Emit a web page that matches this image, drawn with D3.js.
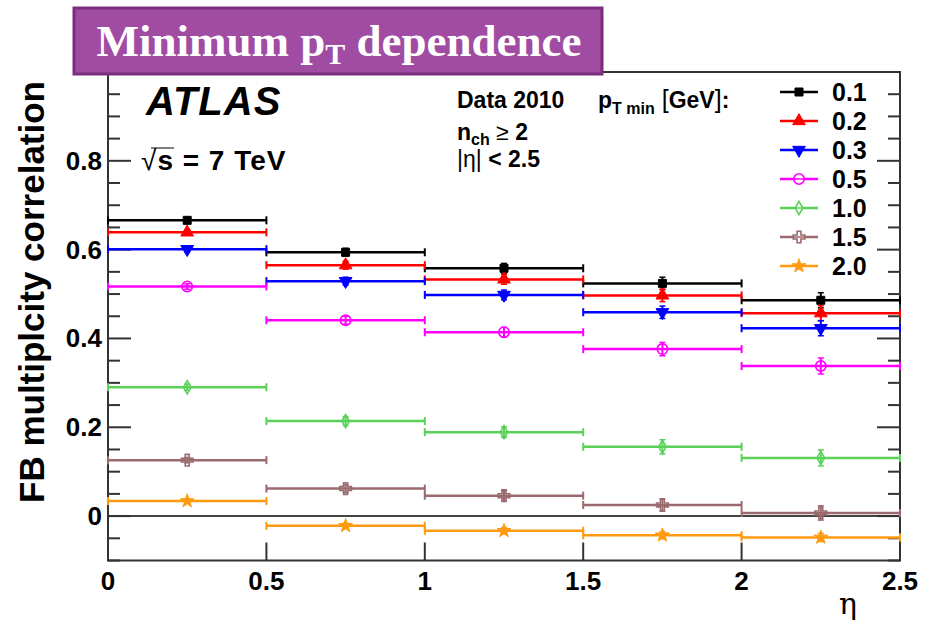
<!DOCTYPE html>
<html>
<head>
<meta charset="utf-8">
<script src="https://cdn.jsdelivr.net/npm/d3@7"></script>
<style>
  body { margin: 0; background: #fff; }
  svg text { font-family: "Liberation Sans", Arial, sans-serif; }
</style>
</head>
<body>
<svg id="chart" width="925" height="625"></svg>
<script>
// FB multiplicity correlation vs eta, for several pT min cuts

// eta bins (edges) and bin centres
var binEdges = [0, 0.5, 1.0, 1.5, 2.0, 2.5];
var binCentres = [0.25, 0.75, 1.25, 1.75, 2.25];

var seriesNames = ['0.1', '0.2', '0.3', '0.5', '1.0', '1.5', '2.0'];

// correlation values per bin
var pt01 = [0.666, 0.594, 0.558, 0.524, 0.486];
var pt02 = [0.639, 0.565, 0.533, 0.497, 0.457];
var pt03 = [0.601, 0.529, 0.498, 0.459, 0.423];
var pt05 = [0.517, 0.441, 0.414, 0.376, 0.338];
var pt10 = [0.290, 0.214, 0.189, 0.156, 0.131];
var pt15 = [0.126, 0.062, 0.046, 0.025, 0.007];
var pt20 = [0.034, -0.022, -0.033, -0.043, -0.048];

// statistical errors (approx.)
var err01 = [0.006, 0.009, 0.011, 0.014, 0.017];
var err02 = [0.006, 0.009, 0.011, 0.014, 0.017];
var err03 = [0.006, 0.009, 0.011, 0.014, 0.017];
var err05 = [0.006, 0.009, 0.011, 0.015, 0.018];
var err10 = [0.007, 0.010, 0.012, 0.016, 0.018];
var err15 = [0.006, 0.009, 0.012, 0.014, 0.016];
var err20 = [0.004, 0.006, 0.007, 0.008, 0.009];

var xTicks = [0, 0.5, 1, 1.5, 2, 2.5];
var xTickLabels = ['0', '0.5', '1', '1.5', '2', '2.5'];
var yTicks = [0, 0.2, 0.4, 0.6, 0.8];

var series = [
  { name: seriesNames[0], vals: pt01, errs: err01, color: '#000000', sym: d3.symbolSquare, size: 64, fill: true, rot: 0 },
  { name: seriesNames[1], vals: pt02, errs: err02, color: '#ff0000', sym: d3.symbolTriangle, size: 70, fill: true, rot: 0 },
  { name: seriesNames[2], vals: pt03, errs: err03, color: '#0000ff', sym: d3.symbolTriangle, size: 70, fill: true, rot: 180 },
  { name: seriesNames[3], vals: pt05, errs: err05, color: '#ff00ff', sym: d3.symbolCircle, size: 85, fill: false, rot: 0 },
  { name: seriesNames[4], vals: pt10, errs: err10, color: '#5ad25a', sym: d3.symbolDiamond, size: 50, fill: false, rot: 0 },
  { name: seriesNames[5], vals: pt15, errs: err15, color: '#9a6a6e', sym: d3.symbolCross, size: 75, fill: false, rot: 0 },
  { name: seriesNames[6], vals: pt20, errs: err20, color: '#ff9a10', sym: d3.symbolStar, size: 60, fill: true, rot: 0 }
];

var svg = d3.select('#chart');

var x = d3.scaleLinear().domain([0, 2.5]).range([108, 900]);
var y = d3.scaleLinear().domain([-0.1, 1.0]).range([560.5, 72]);

var frameColor = '#333';

// zero line
svg.append('line')
  .attr('x1', x(0)).attr('x2', x(2.5))
  .attr('y1', y(0)).attr('y2', y(0))
  .attr('stroke', '#444').attr('stroke-width', 2);

// y ticks, left and right (minor every 0.05)
var yMinor = d3.range(-0.1, 1.0001, 0.05).map(function(d) { return +d.toFixed(2); });
var tickG = svg.append('g');
yMinor.forEach(function(v) {
  var major = Math.abs(Math.round(v / 0.2) * 0.2 - v) < 1e-6;
  var len = major ? 23 : 12;
  tickG.append('line')
    .attr('x1', x(0)).attr('x2', x(0) + len)
    .attr('y1', y(v)).attr('y2', y(v))
    .attr('stroke', frameColor).attr('stroke-width', 2);
  tickG.append('line')
    .attr('x1', x(2.5)).attr('x2', x(2.5) - len)
    .attr('y1', y(v)).attr('y2', y(v))
    .attr('stroke', frameColor).attr('stroke-width', 2);
});

// x ticks (bottom only)
xTicks.forEach(function(v) {
  tickG.append('line')
    .attr('x1', x(v)).attr('x2', x(v))
    .attr('y1', y(-0.1)).attr('y2', y(-0.1) - 18)
    .attr('stroke', frameColor).attr('stroke-width', 2);
});

// frame
svg.append('rect')
  .attr('x', x(0)).attr('y', y(1.0))
  .attr('width', x(2.5) - x(0)).attr('height', y(-0.1) - y(1.0))
  .attr('fill', 'none').attr('stroke', frameColor).attr('stroke-width', 2);

// tick labels
svg.selectAll('.ylab').data(yTicks).enter().append('text')
  .attr('class', 'ylab')
  .attr('x', 102).attr('y', function(d) { return y(d) + 9; })
  .attr('text-anchor', 'end')
  .attr('font-size', 26).attr('font-weight', 'bold')
  .text(function(d) { return d === 0 ? '0' : d.toFixed(1); });

svg.selectAll('.xlab').data(xTicks).enter().append('text')
  .attr('class', 'xlab')
  .attr('x', function(d) { return x(d); }).attr('y', 590)
  .attr('text-anchor', 'middle')
  .attr('font-size', 26).attr('font-weight', 'bold')
  .text(function(d, i) { return xTickLabels[i]; });

// axis titles
svg.append('text')
  .attr('transform', 'translate(44,292) rotate(-90)')
  .attr('text-anchor', 'middle')
  .attr('font-size', 35).attr('font-weight', 'bold')
  .text('FB multiplcity correlation');

svg.append('text')
  .attr('x', 848).attr('y', 614)
  .attr('text-anchor', 'middle')
  .attr('font-size', 30)
  .style('font-family', '"DejaVu Serif", serif')
  .text('η');

// data: horizontal bin bars, vertical error bars, markers
var dataG = svg.append('g');
series.forEach(function(s) {
  var g = dataG.append('g');
  s.vals.forEach(function(v, i) {
    var x0 = x(binEdges[i]), x1 = x(binEdges[i + 1]), yv = y(v);
    g.append('line').attr('x1', x0).attr('x2', x1).attr('y1', yv).attr('y2', yv)
      .attr('stroke', s.color).attr('stroke-width', 2.5);
    [x0, x1].forEach(function(xe) {
      g.append('line').attr('x1', xe).attr('x2', xe).attr('y1', yv - 4).attr('y2', yv + 4)
        .attr('stroke', s.color).attr('stroke-width', 2);
    });
    var xc = x(binCentres[i]), ylo = y(v - s.errs[i]), yhi = y(v + s.errs[i]);
    g.append('line').attr('x1', xc).attr('x2', xc).attr('y1', ylo).attr('y2', yhi)
      .attr('stroke', s.color).attr('stroke-width', 2);
    [ylo, yhi].forEach(function(ye) {
      g.append('line').attr('x1', xc - 3).attr('x2', xc + 3).attr('y1', ye).attr('y2', ye)
        .attr('stroke', s.color).attr('stroke-width', 1.5);
    });
  });
  g.selectAll('path.mk').data(s.vals).enter().append('path')
    .attr('class', 'mk')
    .attr('d', d3.symbol().type(s.sym).size(s.size))
    .attr('transform', function(d, i) {
      return 'translate(' + x(binCentres[i]) + ',' + y(d) + ') rotate(' + s.rot + ')';
    })
    .attr('fill', s.fill ? s.color : 'none')
    .attr('stroke', s.color).attr('stroke-width', s.fill ? 1 : 1.6);
});

// legend
var legY = d3.scaleLinear().domain([0, 6]).range([92, 266]);
var leg = svg.append('g');
series.forEach(function(s, i) {
  var ly = legY(i);
  leg.append('line').attr('x1', 780).attr('x2', 818).attr('y1', ly).attr('y2', ly)
    .attr('stroke', s.color).attr('stroke-width', 2.5);
  leg.append('path')
    .attr('d', d3.symbol().type(s.sym).size(s.size))
    .attr('transform', 'translate(799,' + ly + ') rotate(' + s.rot + ')')
    .attr('fill', s.fill ? s.color : '#fff')
    .attr('stroke', s.color).attr('stroke-width', s.fill ? 1 : 1.6);
  if (!s.fill) {
    leg.append('line').attr('x1', 792).attr('x2', 806).attr('y1', ly).attr('y2', ly)
      .attr('stroke', s.color).attr('stroke-width', 1.5);
  }
  leg.append('text')
    .attr('x', 832).attr('y', ly + 9)
    .attr('font-size', 25).attr('font-weight', 'bold')
    .text(s.name);
});

// labels: ATLAS, sqrt(s), Data 2010 etc.
svg.append('text')
  .attr('x', 146).attr('y', 115)
  .attr('font-size', 40).attr('font-weight', 'bold').attr('font-style', 'italic')
  .attr('letter-spacing', 1)
  .text('ATLAS');

var sq = svg.append('text')
  .attr('x', 141).attr('y', 170)
  .attr('font-size', 28).attr('font-weight', 'bold')
  .attr('letter-spacing', 1);
sq.append('tspan').attr('font-weight', 'normal').text('√');
sq.append('tspan').text('s = 7 TeV');
// overline of the square root
var sNode = sq.node();
var sx1 = sNode.getEndPositionOfChar(1).x;
svg.append('line').attr('x1', sNode.getStartPositionOfChar(0).x + 10).attr('x2', sx1)
  .attr('y1', 148).attr('y2', 148).attr('stroke', '#000').attr('stroke-width', 1);

var t1 = svg.append('text').attr('x', 457).attr('y', 108)
  .attr('font-size', 23).attr('font-weight', 'bold');
t1.append('tspan').text('Data 2010');
t1.append('tspan').attr('x', 598).text('p');
t1.append('tspan').attr('font-size', 16).attr('dy', 6).text('T min');
t1.append('tspan').attr('dy', -6).attr('font-weight', 'normal').attr('font-size', 25).text(' [');
t1.append('tspan').text('GeV');
t1.append('tspan').attr('font-weight', 'normal').attr('font-size', 25).text(']');
t1.append('tspan').text(':');

var t2 = svg.append('text').attr('x', 457).attr('y', 140)
  .attr('font-size', 23).attr('font-weight', 'bold');
t2.append('tspan').text('n');
t2.append('tspan').attr('font-size', 16).attr('dy', 5).text('ch');
t2.append('tspan').attr('dy', -5).attr('font-weight', 'normal').text(' ≥ ');
t2.append('tspan').text('2');

var t3 = svg.append('text').attr('x', 457).attr('y', 167)
  .attr('font-size', 23).attr('font-weight', 'bold');
t3.append('tspan').attr('font-weight', 'normal').text('|η|');
t3.append('tspan').text(' < 2.5');

// title box
svg.append('rect')
  .attr('x', 74).attr('y', 8).attr('width', 528).attr('height', 66)
  .attr('fill', '#a04ca2').attr('stroke', '#7a2f7e').attr('stroke-width', 3);
var title = svg.append('text')
  .attr('x', 339).attr('y', 56)
  .attr('text-anchor', 'middle')
  .attr('fill', '#fff')
  .style('font-family', '"Liberation Serif", "Times New Roman", serif')
  .attr('font-size', 45).attr('font-weight', 'bold');
title.append('tspan').text('Minimum p');
title.append('tspan').attr('font-size', 30).attr('dy', 8).text('T');
title.append('tspan').attr('dy', -8).text(' dependence');
</script>
</body>
</html>
